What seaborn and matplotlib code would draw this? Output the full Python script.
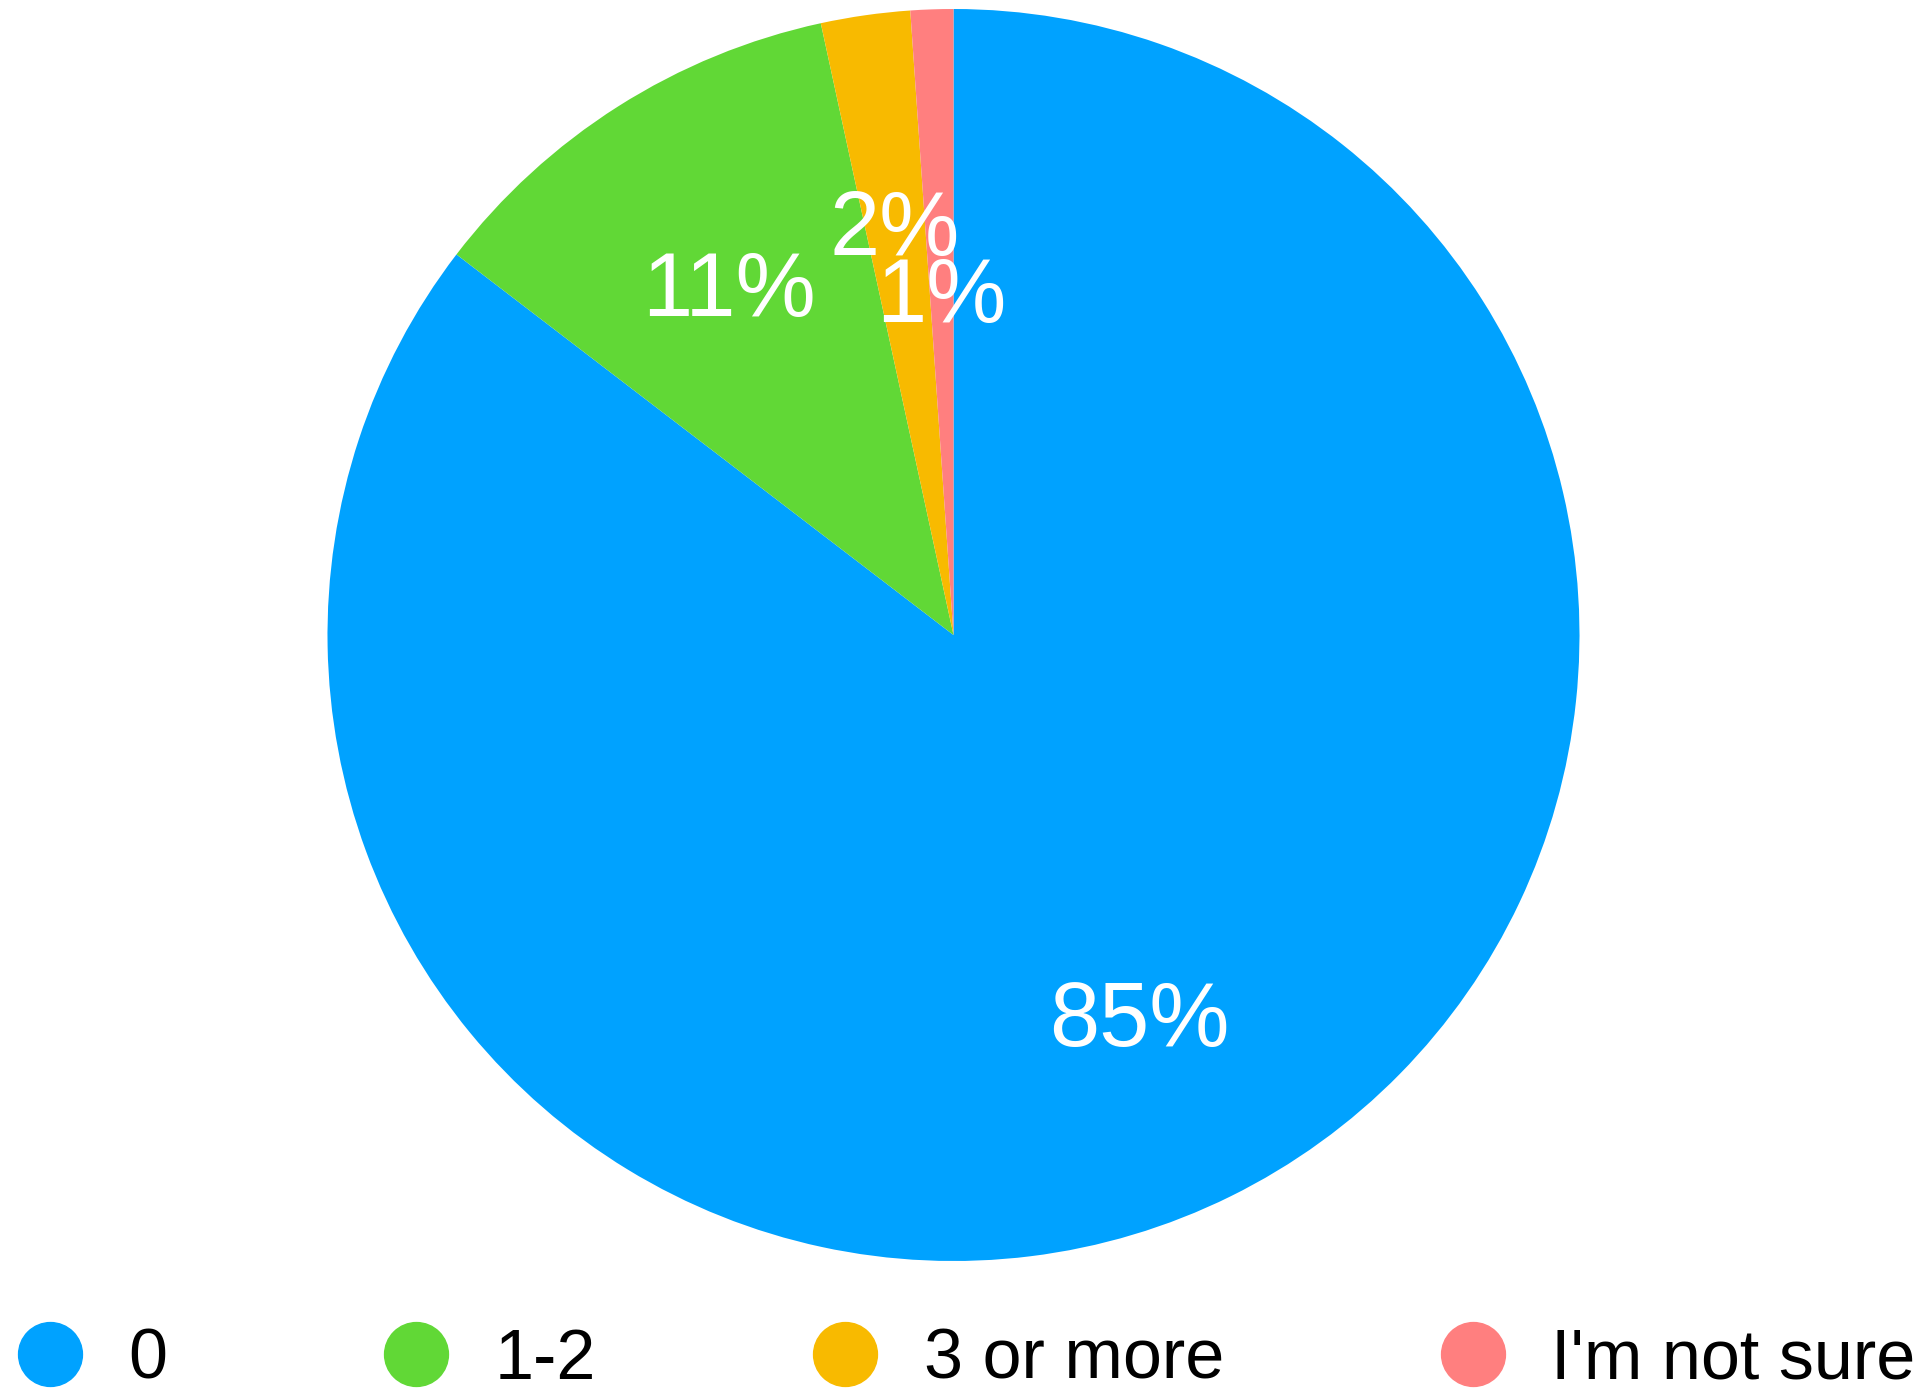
import matplotlib
matplotlib.use("Agg")
import seaborn as sns
import matplotlib.pyplot as plt
from matplotlib.lines import Line2D

# Share of answers
categories = ["0", "1-2", "3 or more", "I'm not sure"]
shares = [85.4, 11.2, 2.3, 1.1]
colors = ["#00A2FF", "#61D836", "#F8BA00", "#FF7F7F"]

sns.set_theme(style="white")
plt.rcParams["font.family"] = ["Liberation Sans", "DejaVu Sans"]

fig = plt.figure(figsize=(19.23, 13.90), dpi=100)
# square axes holding the pie
ax = fig.add_axes([327.5 / 1923, 129 / 1390, 1252 / 1923, 1252 / 1390])

wedges, texts, autotexts = ax.pie(
    shares,
    colors=colors,
    startangle=90,
    counterclock=False,
    autopct="%1.0f%%",
    pctdistance=0.67,
    wedgeprops={"linewidth": 0},
    textprops={"color": "white", "fontsize": 65},
)
# nudge labels down a touch; the 1% label sits further in
for i, t in enumerate(autotexts):
    x, y = t.get_position()
    if i == len(autotexts) - 1:
        x, y = x * 0.83, y * 0.83
    t.set_position((x, y - 0.018))

ax.set_xlim(-1, 1)
ax.set_ylim(-1, 1)
ax.set_aspect("equal")

handles = [
    Line2D([], [], marker="o", linestyle="", markersize=46,
           markerfacecolor=c, markeredgecolor=c)
    for c in colors
]
leg = fig.legend(
    handles, categories,
    loc="center left",
    bbox_to_anchor=(14.5 / 1923, 0.021),
    ncol=4,
    frameon=False,
    fontsize=50.5,
    handlelength=1.0,
    handletextpad=0.62,
    columnspacing=3.05,
    borderpad=0,
    borderaxespad=0,
)
for t in leg.get_texts():
    t.set_color("black")

fig.savefig("out.png", dpi=100)
